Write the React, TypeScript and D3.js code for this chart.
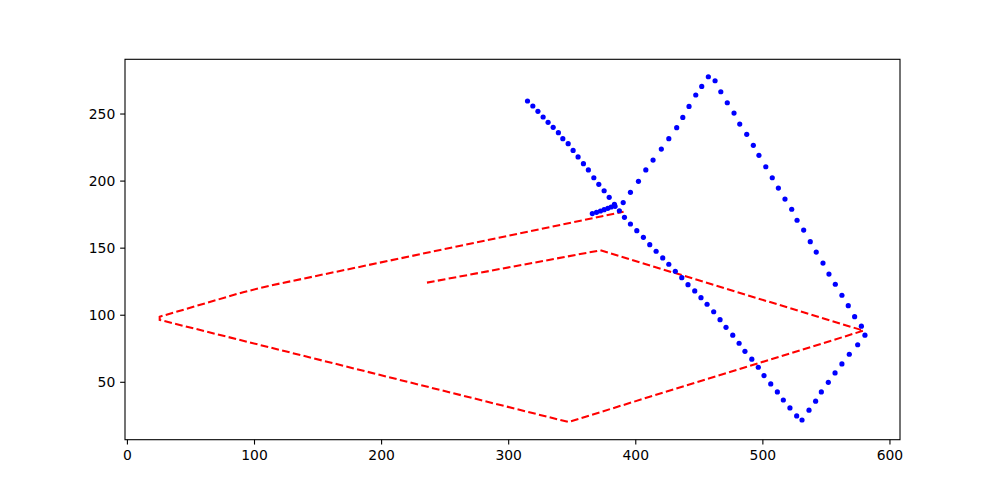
import React from "react";
import * as d3 from "d3";

const WIDTH = 1000;
const HEIGHT = 494;

// axis limits and ticks
const xLimits: [number, number] = [-1.9, 607.9];
const yLimits: [number, number] = [7.2, 290.8];
const xTicks = [0, 100, 200, 300, 400, 500, 600];
const yTicks = [50, 100, 150, 200, 250];

// red dashed path
const redX = [235.7, 372.2, 579.2, 347.0, 25.4, 25.4, 91.1, 113.3, 390.4];
const redY = [124.3, 148.4, 88.5, 20.4, 96.5, 98.9, 117.2, 122.3, 177.2];

// blue dots
const blueX = [
  314.8, 319.0, 323.0, 327.1, 331.0, 335.0, 339.1, 342.6, 346.8, 350.7, 354.6, 358.8, 362.7, 367.0,
  370.9, 375.1, 379.1, 383.2, 387.1, 391.1, 395.8, 400.8, 406.0, 411.0, 416.0, 421.2, 426.0, 431.1,
  436.2, 441.1, 446.4, 451.3, 456.1, 461.3, 466.3, 471.0, 476.3, 481.3, 485.9, 491.3, 496.4, 500.9,
  506.2, 511.4, 516.1, 521.3, 526.6, 530.8,
  536.3, 541.5, 546.0, 551.5, 556.8, 562.2, 568.0, 574.6, 580.3,
  577.5, 572.2, 567.2, 562.2, 557.0, 552.0, 547.3, 542.0, 537.3, 532.1, 526.9, 522.7, 517.4, 512.2,
  507.4, 502.3, 496.9, 492.5, 487.3, 481.8, 477.3, 472.0, 466.9, 462.4, 457.1,
  451.9, 447.2, 441.9, 437.0, 432.2, 426.0, 420.1, 413.6, 407.9, 402.1, 395.8,
  390.1, 383.7, 380.6, 378.0, 375.1, 372.2, 369.1, 365.8,
];
const blueY = [
  259.7, 256.0, 252.0, 247.8, 243.8, 240.1, 236.1, 231.6, 227.9, 222.9, 218.0, 213.0, 208.3, 202.5,
  197.6, 192.8, 187.9, 182.7, 177.9, 173.0, 168.0, 163.0, 158.1, 152.6, 147.7, 142.7, 138.0, 132.8,
  128.0, 122.8, 118.1, 113.1, 108.2, 102.6, 96.7, 91.0, 85.1, 79.1, 73.1, 67.2, 61.2, 55.0,
  48.8, 42.8, 36.8, 30.9, 24.9, 21.9,
  29.2, 35.9, 42.8, 50.0, 57.0, 63.7, 70.9, 78.0, 85.1,
  91.8, 98.9, 107.1, 114.9, 123.1, 130.7, 138.9, 147.1, 154.8, 163.5, 170.8, 179.0, 186.6, 194.8,
  202.5, 210.7, 219.2, 226.7, 234.9, 242.5, 250.7, 258.4, 266.6, 274.8, 277.8,
  270.6, 264.2, 255.7, 247.5, 239.8, 231.6, 223.9, 215.7, 208.3, 199.8, 191.6,
  184.0, 181.2, 180.7, 179.7, 178.7, 177.7, 176.7, 175.8,
];

const margin = { left: 125, right: 100, top: 59.3, bottom: 54.3 };

export default function App() {
  const x = d3.scaleLinear().domain(xLimits).range([margin.left, WIDTH - margin.right]);
  const y = d3.scaleLinear().domain(yLimits).range([HEIGHT - margin.bottom, margin.top]);

  const redPts: [number, number][] = redX.map((v, i) => [v, redY[i]]);
  const line = d3
    .line<[number, number]>()
    .x((d) => x(d[0]))
    .y((d) => y(d[1]));

  const x0 = margin.left;
  const x1 = WIDTH - margin.right;
  const y0 = margin.top;
  const y1 = HEIGHT - margin.bottom;
  const tickLen = 4.86;
  const font = "DejaVu Sans, sans-serif";

  return (
    <svg
      width={WIDTH}
      height={HEIGHT}
      style={{ position: "absolute", left: 0, top: 0, background: "#fff" }}
    >
      <rect x={0} y={0} width={WIDTH} height={HEIGHT} fill="#fff" />
      <defs>
        <clipPath id="plotclip">
          <rect x={x0} y={y0} width={x1 - x0} height={y1 - y0} />
        </clipPath>
      </defs>
      <g clipPath="url(#plotclip)">
        <path
          d={line(redPts) || ""}
          fill="none"
          stroke="#ff0000"
          strokeWidth={2.08}
          strokeDasharray="7.7,3.33"
        />
        {blueX.map((v, i) => (
          <circle key={i} cx={x(v)} cy={y(blueY[i])} r={2.6} fill="#0000ff" />
        ))}
      </g>
      <rect x={x0} y={y0} width={x1 - x0} height={y1 - y0} fill="none" stroke="#000" strokeWidth={1.1} />
      {xTicks.map((t) => (
        <g key={"x" + t}>
          <line x1={x(t)} x2={x(t)} y1={y1} y2={y1 + tickLen} stroke="#000" strokeWidth={1.1} />
          <text
            x={x(t)}
            y={y1 + tickLen + 4.86}
            dy="0.76em"
            textAnchor="middle"
            fontFamily={font}
            fontSize={13.9}
            fill="#000"
          >
            {t}
          </text>
        </g>
      ))}
      {yTicks.map((t) => (
        <g key={"y" + t}>
          <line x1={x0 - tickLen} x2={x0} y1={y(t)} y2={y(t)} stroke="#000" strokeWidth={1.1} />
          <text
            x={x0 - tickLen - 4.86}
            y={y(t)}
            dy="0.36em"
            textAnchor="end"
            fontFamily={font}
            fontSize={13.9}
            fill="#000"
          >
            {t}
          </text>
        </g>
      ))}
    </svg>
  );
}
